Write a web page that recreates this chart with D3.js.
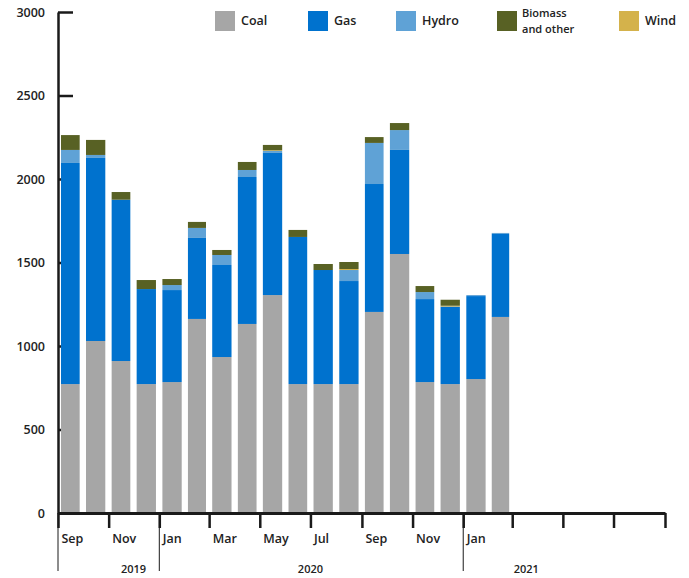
<!DOCTYPE html>
<html>
<head>
<meta charset="utf-8">
<script src="https://cdn.jsdelivr.net/npm/d3@7"></script>
<style>
  body { margin: 0; background: #fff; }
  svg text { font-family: "Open Sans", sans-serif; font-weight: 600; font-size: 12.5px; fill: #222; }
</style>
</head>
<body>
<svg id="chart" width="689" height="578"></svg>
<script>
// months shown, Sep 2019 - Feb 2021
const months = ["2019-09","2019-10","2019-11","2019-12","2020-01","2020-02","2020-03","2020-04","2020-05",
                "2020-06","2020-07","2020-08","2020-09","2020-10","2020-11","2020-12","2021-01","2021-02"];
const coal    = [772, 1030, 910, 772, 784, 1162, 934, 1132, 1305, 772, 772, 772, 1204, 1551, 784, 772, 802, 1174];
const gas     = [1324, 1096, 966, 569, 551, 485, 551, 880, 851, 881, 683, 617, 766, 623, 497, 464, 497, 497];
const hydro   = [78, 18, 0, 0, 30, 60, 60, 42, 12, 0, 0, 66, 246, 119, 42, 0, 6, 6];
const wind    = [0, 0, 0, 0, 0, 0, 0, 0, 4, 0, 0, 6, 0, 0, 0, 5, 0, 0];
const biomass = [89, 90, 46, 54, 36, 36, 30, 48, 32, 42, 36, 42, 35, 42, 36, 36, 0, 0];

const yTicks = [0, 500, 1000, 1500, 2000, 2500, 3000];
const legendItems = [
  {key: "coal", label: ["Coal"], color: "#a6a6a6"},
  {key: "gas", label: ["Gas"], color: "#0072ce"},
  {key: "hydro", label: ["Hydro"], color: "#5fa2d6"},
  {key: "biomass", label: ["Biomass", "and other"], color: "#586124"},
  {key: "wind", label: ["Wind"], color: "#d4b24b"}
];
const years = [{label: "2019", at: "2019-12-01"}, {label: "2020", at: "2020-07-01"}, {label: "2021", at: "2021-03-18"}];
const yearBreaks = ["2019-09-01", "2020-01-01", "2021-01-01"];

const parse = d3.timeParse("%Y-%m");
const parseDay = d3.timeParse("%Y-%m-%d");
const color = Object.fromEntries(legendItems.map(d => [d.key, d.color]));
const stackKeys = ["coal", "gas", "hydro", "wind", "biomass"];

const data = months.map((m, i) => ({
  date: parse(m), coal: coal[i], gas: gas[i], hydro: hydro[i], wind: wind[i], biomass: biomass[i]
}));

const svg = d3.select("#chart");
const plotLeft = 58, plotRight = 665, plotBottom = 513, plotTop = 12;

const x = d3.scaleTime()
  .domain([parse("2019-09"), parse("2021-09")])
  .range([plotLeft, plotRight]);

const y = d3.scaleLinear()
  .domain([0, 3000])
  .range([plotBottom, plotTop]);

// y axis with inward ticks (drawn first so bars cover them)
const yAxis = svg.append("g")
  .attr("transform", `translate(${plotLeft},0)`)
  .call(d3.axisLeft(y).tickValues(yTicks).tickFormat(d3.format("d"))
    .tickSizeInner(-15).tickSizeOuter(0).tickPadding(13));
yAxis.select(".domain").attr("stroke", "#1a1a1a").attr("stroke-width", 2.5);
yAxis.selectAll(".tick line").attr("stroke", "#1a1a1a").attr("stroke-width", 2.5);
yAxis.selectAll(".tick text").attr("font-size", null).attr("font-family", null);

// stacked bars
const series = d3.stack().keys(stackKeys)(data);
svg.append("g")
  .selectAll("g")
  .data(series)
  .join("g")
  .attr("fill", s => color[s.key])
  .selectAll("rect")
  .data(s => s)
  .join("rect")
  .attr("x", d => {
    const x0 = x(d.data.date), x1 = x(d3.timeMonth.offset(d.data.date, 1));
    return x0 + (x1 - x0) * 0.12;
  })
  .attr("width", d => {
    const x0 = x(d.data.date), x1 = x(d3.timeMonth.offset(d.data.date, 1));
    return (x1 - x0) * 0.75;
  })
  .attr("y", d => y(d[1]))
  .attr("height", d => y(d[0]) - y(d[1]));

// x axis
const xTickVals = d3.timeMonth.every(2).range(parse("2019-09"), parse("2021-10"));
const lastLabel = parse("2021-01");
const xAxis = svg.append("g")
  .attr("transform", `translate(0,${plotBottom})`)
  .call(d3.axisBottom(x).tickValues(xTickVals).tickSizeInner(15).tickSizeOuter(0)
    .tickFormat(d => d <= lastLabel ? d3.timeFormat("%b")(d) : ""));
xAxis.select(".domain").attr("stroke", "#1a1a1a").attr("stroke-width", 3);
xAxis.selectAll(".tick line").attr("stroke", "#1a1a1a").attr("stroke-width", 2.5);
xAxis.selectAll(".tick text")
  .attr("font-size", null).attr("font-family", null)
  .attr("text-anchor", "start")
  .attr("x", 3).attr("y", 30).attr("dy", null);

// year separators
svg.append("g")
  .selectAll("line")
  .data(yearBreaks)
  .join("line")
  .attr("x1", d => x(parseDay(d))).attr("x2", d => x(parseDay(d)))
  .attr("y1", plotBottom).attr("y2", 571)
  .attr("stroke", "#1a1a1a").attr("stroke-width", 1);

svg.append("g")
  .selectAll("text")
  .data(years)
  .join("text")
  .attr("x", d => x(parseDay(d.at)))
  .attr("y", 573)
  .attr("text-anchor", "middle")
  .style("font-size", "11px")
  .text(d => d.label);

// legend
const legendX = [215, 308, 396, 497, 619];
const lg = svg.append("g")
  .selectAll("g")
  .data(legendItems)
  .join("g")
  .attr("transform", (d, i) => `translate(${legendX[i]},11)`);
lg.append("rect").attr("width", 20).attr("height", 20).attr("fill", d => d.color);
lg.selectAll("text")
  .data(d => d.label.map((t, i, a) => ({t, i, n: a.length})))
  .join("text")
  .attr("x", d => d.n > 1 ? 25 : 26)
  .attr("y", d => d.n > 1 ? 5.5 + d.i * 16 : 14)
  .style("font-size", d => d.n > 1 ? "11px" : null)
  .text(d => d.t);
</script>
</body>
</html>
